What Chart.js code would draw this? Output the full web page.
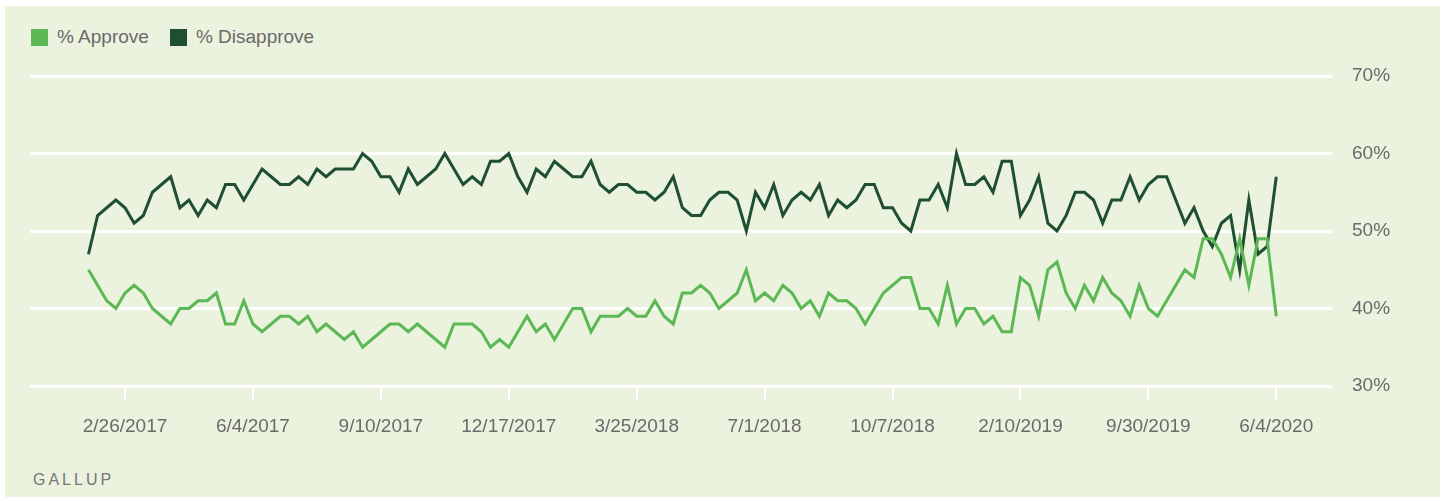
<!DOCTYPE html>
<html>
<head>
<meta charset="utf-8">
<script src="https://cdn.jsdelivr.net/npm/chart.js@4.4.1/dist/chart.umd.min.js"></script>
<style>
    body { margin: 0; background: #fff; font-family: "Liberation Sans", Arial, sans-serif; }
    .panel { position: absolute; left: 5px; top: 6px; right: 4px; bottom: 4px; background: #ebf2de; }
    .legend { position: absolute; top: 26px; left: 31px; display: flex; align-items: center; color: #6a6a6a; font-size: 19px; }
    .legend span.box { display: inline-block; width: 17px; height: 17px; margin-right: 9px; }
    .legend span.txt { margin-right: 21px; }
    .source { position: absolute; left: 33px; top: 471px; color: #777; font-size: 16px; letter-spacing: 3px; }
    canvas { position: absolute; left: 0; top: 0; }
</style>
</head>
<body>
<div class="panel"></div>
<div class="legend">
    <span class="box" style="background:#5cb855"></span><span class="txt">% Approve</span>
    <span class="box" style="background:#1f4f31"></span><span class="txt">% Disapprove</span>
</div>
<div class="source">GALLUP</div>
<canvas id="chart" width="1444" height="501"></canvas>
<script>
// one value per Gallup poll, oldest first (1/29/2017 ... 6/4/2020)
const approve = [
    45, 43, 41, 40, 42, 43, 42, 40, 39, 38, 40, 40, 41, 41, 42, 38, 38, 41, 38, 37,
    38, 39, 39, 38, 39, 37, 38, 37, 36, 37, 35, 36, 37, 38, 38, 37, 38, 37, 36, 35,
    38, 38, 38, 37, 35, 36, 35, 37, 39, 37, 38, 36, 38, 40, 40, 37, 39, 39, 39, 40,
    39, 39, 41, 39, 38, 42, 42, 43, 42, 40, 41, 42, 45, 41, 42, 41, 43, 42, 40, 41,
    39, 42, 41, 41, 40, 38, 40, 42, 43, 44, 44, 40, 40, 38, 43, 38, 40, 40, 38, 39,
    37, 37, 44, 43, 39, 45, 46, 42, 40, 43, 41, 44, 42, 41, 39, 43, 40, 39, 41, 43,
    45, 44, 49, 49, 47, 44, 49, 43, 49, 49, 39
];
const disapprove = [
    47, 52, 53, 54, 53, 51, 52, 55, 56, 57, 53, 54, 52, 54, 53, 56, 56, 54, 56, 58,
    57, 56, 56, 57, 56, 58, 57, 58, 58, 58, 60, 59, 57, 57, 55, 58, 56, 57, 58, 60,
    58, 56, 57, 56, 59, 59, 60, 57, 55, 58, 57, 59, 58, 57, 57, 59, 56, 55, 56, 56,
    55, 55, 54, 55, 57, 53, 52, 52, 54, 55, 55, 54, 50, 55, 53, 56, 52, 54, 55, 54,
    56, 52, 54, 53, 54, 56, 56, 53, 53, 51, 50, 54, 54, 56, 53, 60, 56, 56, 57, 55,
    59, 59, 52, 54, 57, 51, 50, 52, 55, 55, 54, 51, 54, 54, 57, 54, 56, 57, 57, 54,
    51, 53, 50, 48, 51, 52, 45, 54, 47, 48, 57
];
const tickIndex = [4, 18, 32, 46, 60, 74, 88, 102, 116, 130];
const tickLabels = ['2/26/2017', '6/4/2017', '9/10/2017', '12/17/2017', '3/25/2018',
    '7/1/2018', '10/7/2018', '2/10/2019', '9/30/2019', '6/4/2020'];
const yTicks = [30, 40, 50, 60, 70];

const toPoints = arr => arr.map((v, i) => ({ x: i, y: v }));
const fontSpec = { family: '"Liberation Sans", Arial, sans-serif', size: 19 };

new Chart(document.getElementById('chart'), {
    type: 'line',
    data: {
        datasets: [
            { label: '% Approve', data: toPoints(approve), borderColor: '#5cb855' },
            { label: '% Disapprove', data: toPoints(disapprove), borderColor: '#1f4f31' }
        ]
    },
    options: {
        responsive: false,
        devicePixelRatio: 1,
        animation: false,
        layout: { padding: { left: 30, top: 76, right: 0, bottom: 0 } },
        elements: {
            line: { borderWidth: 3, tension: 0, borderJoinStyle: 'miter' },
            point: { radius: 0 }
        },
        plugins: { legend: { display: false }, tooltip: { enabled: false } },
        scales: {
            x: {
                type: 'linear',
                min: -6.4,
                max: 136.1,
                afterBuildTicks: axis => { axis.ticks = tickIndex.map(v => ({ value: v })); },
                afterFit: axis => { axis.height = 115; },
                border: { display: false },
                grid: { drawOnChartArea: false, color: '#ffffff', lineWidth: 2, tickLength: 14 },
                ticks: {
                    autoSkip: false, maxRotation: 0, padding: 15, color: '#6a6a6a', font: fontSpec,
                    callback: v => tickLabels[tickIndex.indexOf(v)]
                }
            },
            y: {
                position: 'right',
                min: 30,
                max: 70,
                afterBuildTicks: axis => { axis.ticks = yTicks.map(v => ({ value: v })); },
                afterFit: axis => { axis.width = 112; },
                border: { display: false },
                grid: { color: '#ffffff', lineWidth: 3, drawTicks: false },
                ticks: { padding: 20, color: '#6a6a6a', font: fontSpec, callback: v => v + '%' }
            }
        }
    }
});
</script>
</body>
</html>
